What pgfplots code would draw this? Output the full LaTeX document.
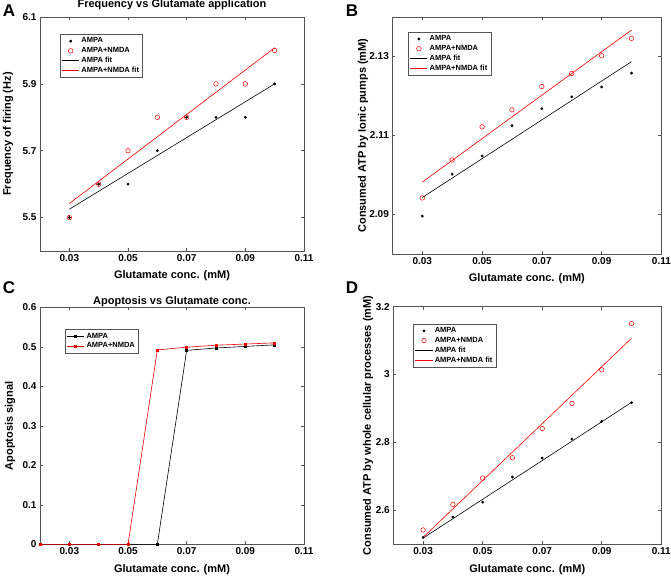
\documentclass[border=0pt]{standalone}
\usepackage{fontspec}
\setmainfont{Liberation Sans}
\usepackage{pgfplots}
\pgfplotsset{compat=1.18}

\definecolor{axgray}{RGB}{85,85,85}
\definecolor{mred}{RGB}{240,0,0}

\newcommand{\tickfont}{\fontsize{10}{12}\selectfont\bfseries}
\newcommand{\labfont}{\fontsize{11}{13}\selectfont\bfseries}

\pgfplotsset{
  panel/.style={
    scale only axis,
    xmin=0.02, xmax=0.11,
    xtick={0.03,0.05,0.07,0.09,0.11},
    xticklabels={0.03,0.05,0.07,0.09,0.11},
    tick align=inside,
    xtick pos=both, ytick pos=both,
    xticklabel pos=bottom, yticklabel pos=left,
    axis line style={axgray, line width=0.6pt},
    major tick length=3pt,
    every tick/.style={axgray, line width=0.6pt},
    /pgf/number format/assume math mode=true,
    xticklabel style={font=\tickfont, text=black},
    yticklabel style={font=\tickfont, text=black},
    title style={font=\labfont, at={(axis description cs:0.5,1)}, anchor=south, inner sep=0pt},
    legend style={font=\fontsize{7.5}{9}\selectfont\bfseries, draw=axgray, line width=0.5pt, anchor=north west, inner sep=1.5pt, row sep=-1pt},
    legend cell align=left,
    every axis x label/.style={at={(axis description cs:0.5,0)}, anchor=center, yshift=-25pt, font=\labfont},
  },
  ylab/.style={every axis y label/.style={at={(axis description cs:#1,0.5)}, rotate=90, anchor=center, font=\labfont}},
  ampa/.style={only marks, mark=*, mark size=1.2pt, black},
  nmda/.style={only marks, mark=o, mark size=2.3pt, mred, mark options={line width=0.5pt}},
  ampafit/.style={no marks, black, line width=0.6pt},
  nmdafit/.style={no marks, mred, line width=0.6pt},
}

\begin{document}
\begin{tikzpicture}
\path[use as bounding box] (0pt,0pt) rectangle (671pt,-576pt);

% Panel A
\begin{axis}[panel,
  at={(40pt,-17pt)}, anchor=north west, width=264pt, height=234pt,
  ymin=5.4, ymax=6.1,
  ytick={5.5,5.7,5.9,6.1}, yticklabels={5.5,5.7,5.9,6.1},
  title={Frequency vs Glutamate application},
  title style={yshift=1pt},
  xlabel={Glutamate conc. (mM)},
  ylabel={Frequency of firing (Hz)},
  ylab=-0.121,
  legend style={at={(axis description cs:0.076,0.927)}},
]
\addplot[ampa] coordinates {(0.03,5.5)(0.04,5.6)(0.05,5.6)(0.06,5.7)(0.07,5.8)(0.08,5.8)(0.09,5.8)(0.10,5.9)};
\addplot[nmda] coordinates {(0.03,5.5)(0.04,5.6)(0.05,5.7)(0.06,5.8)(0.07,5.8)(0.08,5.9)(0.09,5.9)(0.10,6.0)};
\addplot[ampafit] coordinates {(0.03,5.525)(0.10,5.900)};
\addplot[nmdafit] coordinates {(0.03,5.542)(0.10,6.008)};
\legend{AMPA,AMPA+NMDA,AMPA fit,AMPA+NMDA fit}
\end{axis}

% Panel B
\begin{axis}[panel,
  at={(392.4pt,-17pt)}, anchor=north west, width=269pt, height=237pt,
  ymin=2.08, ymax=2.14,
  ytick={2.09,2.11,2.13}, yticklabels={2.09,2.11,2.13},
  xlabel={Glutamate conc. (mM)},
  ylabel={Consumed ATP by Ionic pumps (mM)},
  ylab=-0.109,
  legend style={at={(axis description cs:0.059,0.937)}},
]
\addplot[ampa] coordinates {(0.03,2.0896)(0.04,2.1002)(0.05,2.1048)(0.06,2.1125)(0.07,2.1168)(0.08,2.1198)(0.09,2.1223)(0.10,2.1258)};
\addplot[nmda] coordinates {(0.03,2.0942)(0.04,2.1038)(0.05,2.1122)(0.06,2.1165)(0.07,2.1224)(0.08,2.1257)(0.09,2.1302)(0.10,2.1346)};
\addplot[ampafit] coordinates {(0.03,2.0943)(0.10,2.1287)};
\addplot[nmdafit] coordinates {(0.03,2.0982)(0.10,2.1367)};
\legend{AMPA,AMPA+NMDA,AMPA fit,AMPA+NMDA fit}
\end{axis}

% Panel C
\begin{axis}[panel,
  at={(40pt,-307.3pt)}, anchor=north west, width=264pt, height=237pt,
  ymin=0, ymax=0.6,
  ytick={0,0.1,0.2,0.3,0.4,0.5,0.6}, yticklabels={0,0.1,0.2,0.3,0.4,0.5,0.6},
  title={Apoptosis vs Glutamate conc.},
  title style={yshift=-6pt},
  xlabel={Glutamate conc. (mM)},
  ylabel={Apoptosis signal},
  ylab=-0.1136,
  legend style={at={(axis description cs:0.095,0.907)}},
]
\addplot[black, line width=0.6pt, mark=square*, mark size=1pt] coordinates {(0.02,0)(0.03,0)(0.04,0)(0.05,0)(0.06,0)(0.07,0.491)(0.08,0.497)(0.09,0.501)(0.10,0.505)};
\addplot[mred, line width=0.6pt, mark=square*, mark size=1pt] coordinates {(0.02,0)(0.03,0)(0.04,0)(0.05,0)(0.06,0.492)(0.07,0.499)(0.08,0.504)(0.09,0.507)(0.10,0.510)};
\legend{AMPA,AMPA+NMDA}
\end{axis}

% Panel D
\begin{axis}[panel,
  at={(393.3pt,-306.7pt)}, anchor=north west, width=268pt, height=237.5pt,
  ymin=2.5, ymax=3.2,
  ytick={2.6,2.8,3.0,3.2}, yticklabels={2.6,2.8,3,3.2},
  xlabel={Glutamate conc. (mM)},
  ylabel={Consumed ATP by whole cellular processes (mM)},
  ylab=-0.094,
  legend style={at={(axis description cs:0.075,0.928)}},
]
\addplot[ampa] coordinates {(0.03,2.520)(0.04,2.580)(0.05,2.624)(0.06,2.698)(0.07,2.754)(0.08,2.810)(0.09,2.862)(0.10,2.917)};
\addplot[nmda] coordinates {(0.03,2.542)(0.04,2.617)(0.05,2.695)(0.06,2.755)(0.07,2.841)(0.08,2.915)(0.09,3.014)(0.10,3.150)};
\addplot[ampafit] coordinates {(0.03,2.518)(0.10,2.918)};
\addplot[nmdafit] coordinates {(0.03,2.520)(0.10,3.107)};
\legend{AMPA,AMPA+NMDA,AMPA fit,AMPA+NMDA fit}
\end{axis}

% panel letters
\node[font=\fontsize{17}{19}\selectfont\bfseries] at (9pt,-11pt) {A};
\node[font=\fontsize{17}{19}\selectfont\bfseries] at (352pt,-11pt) {B};
\node[font=\fontsize{17}{19}\selectfont\bfseries] at (9pt,-288pt) {C};
\node[font=\fontsize{17}{19}\selectfont\bfseries] at (352pt,-288pt) {D};
\end{tikzpicture}
\end{document}
